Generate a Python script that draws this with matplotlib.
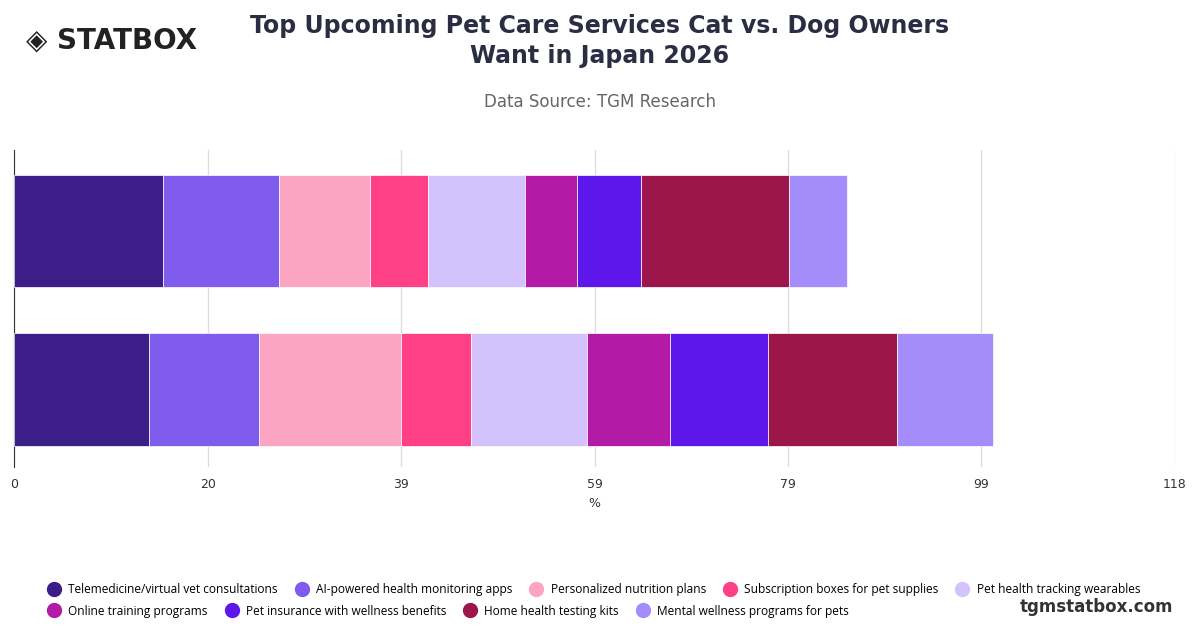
import matplotlib
matplotlib.use("Agg")
import matplotlib.pyplot as plt
from matplotlib.lines import Line2D

groups = ["Cat Owners", "Dog Owners"]
services = ["Telemedicine/virtual vet consultations", "AI-powered health monitoring apps",
            "Personalized nutrition plans", "Subscription boxes for pet supplies",
            "Pet health tracking wearables", "Online training programs",
            "Pet insurance with wellness benefits", "Home health testing kits",
            "Mental wellness programs for pets"]
cat_vals = [15.1, 11.8, 9.3, 5.9, 9.8, 5.3, 6.5, 15.1, 5.9]
dog_vals = [13.7, 11.2, 14.4, 7.1, 11.8, 8.5, 9.9, 13.1, 9.8]
colors = ["#3b1e87", "#7f5ced", "#fca5c3", "#ff4086", "#d4c2fc",
          "#b31aa5", "#5e17eb", "#9c154b", "#a58cfb"]
ticks = [0, 19.67, 39.33, 59, 78.67, 98.33, 118]
tick_labels = ["0", "20", "39", "59", "79", "99", "118"]

fig = plt.figure(figsize=(12, 6.28), dpi=100)
ax = fig.add_axes([0.012, 0.256, 0.967, 0.505])
data = [cat_vals, dog_vals]
ypos = [1, 0]
for yi, vals in zip(ypos, data):
    left = 0
    for v, c in zip(vals, colors):
        ax.barh(yi, v, left=left, color=c, height=0.71, edgecolor="white", linewidth=0.5, zorder=3)
        left += v
ax.set_xlim(0, 118)
ax.set_ylim(-0.49, 1.51)
ax.set_xticks(ticks)
ax.set_xticklabels(tick_labels, fontsize=9, color="#333")
ax.set_yticks([])
ax.grid(axis="x", color="#dddddd", linewidth=1, zorder=0)
for sp in ["top", "right", "bottom"]:
    ax.spines[sp].set_visible(False)
ax.spines["left"].set_color("#333")
ax.tick_params(axis="x", length=0, pad=8)
ax.set_xlabel("%", fontsize=9, color="#333", labelpad=4)

fig.text(0.5, 0.935, "Top Upcoming Pet Care Services Cat vs. Dog Owners\nWant in Japan 2026",
         ha="center", va="center", fontsize=17, fontweight="bold", color="#2b2d42", linespacing=1.3)
fig.text(0.5, 0.838, "Data Source: TGM Research", ha="center", va="center", fontsize=12, color="#666")
fig.text(0.022, 0.935, "◈ STATBOX", ha="left", va="center", fontsize=20, fontweight="bold", color="#222")
fig.text(0.978, 0.034, "tgmstatbox.com", ha="right", va="center", fontsize=12, fontweight="bold", color="#333")

def handles(idx):
    return [Line2D([], [], marker="o", linestyle="", markersize=10, color=colors[i]) for i in idx]

row1 = list(range(5))
row2 = list(range(5, 9))
kw = dict(frameon=False, prop={"family": "Open Sans", "size": 8.6}, handletextpad=0.2,
          columnspacing=1.0, borderaxespad=0, borderpad=0)
fig.legend(handles(row1), [services[i] for i in row1], loc="center left", bbox_to_anchor=(0.035, 0.061),
           ncol=5, **kw)
fig.legend(handles(row2), [services[i] for i in row2], loc="center left", bbox_to_anchor=(0.035, 0.027),
           ncol=4, **kw)
fig.savefig("out.png", dpi=100)
